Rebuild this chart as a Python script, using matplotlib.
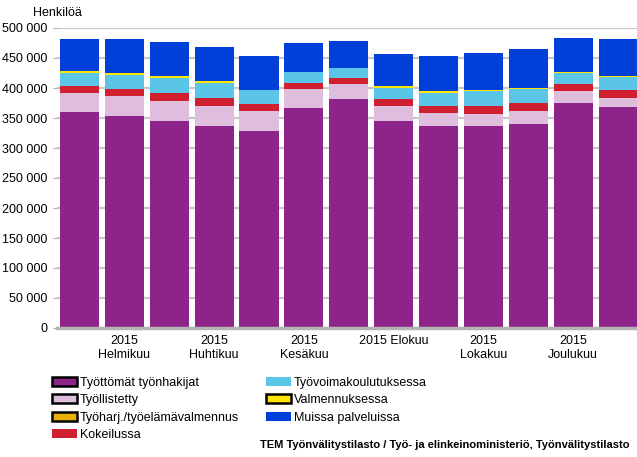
import matplotlib
matplotlib.use("Agg")
import matplotlib.pyplot as plt
from matplotlib.patches import Patch
import numpy as np

plt.rcParams['font.family'] = ['Liberation Sans', 'DejaVu Sans']

months = ["2015 Tammikuu", "2015 Helmikuu", "2015 Maaliskuu", "2015 Huhtikuu",
          "2015 Toukokuu", "2015 Kesäkuu", "2015 Heinäkuu", "2015 Elokuu",
          "2015 Syyskuu", "2015 Lokakuu", "2015 Marraskuu", "2015 Joulukuu",
          "2016 Tammikuu"]

tyottomat = [360500, 353900, 345500, 337200, 328300, 367200, 382200, 345500,
             337200, 337200, 340500, 375500, 368900]
tyollistetty = [31700, 33300, 33400, 33400, 33900, 31700, 25000, 25000,
                21700, 20000, 21700, 20000, 15000]
tyoharj = [0, 0, 0, 0, 0, 0, 0, 0, 0, 0, 0, 0, 0]
kokeilussa = [11700, 11700, 13300, 13300, 11700, 10000, 10000, 11700,
              11700, 13300, 13300, 11700, 13300]
koulutus = [21700, 23300, 25000, 25000, 23300, 18300, 16700, 18300,
            21700, 24500, 22800, 17800, 21100]
valmennus = [3300, 3300, 3300, 3300, 0, 0, 0, 3300, 3300, 2200, 2200, 2200, 2200]
muissa = [53300, 56700, 56700, 56700, 56700, 48300, 45000, 53300,
          58300, 61700, 65000, 56700, 61700]

series_names = ["Työttömät työnhakijat", "Työllistetty", "Työharj./työelämävalmennus",
                "Kokeilussa", "Työvoimakoulutuksessa", "Valmennuksessa", "Muissa palveluissa"]
series_values = [tyottomat, tyollistetty, tyoharj, kokeilussa, koulutus, valmennus, muissa]
colors = ["#8E2489", "#DFBDDC", "#E8B100", "#D01F2E", "#5BC5E8", "#FFE600", "#0040D8"]

xtick_idx = [1, 3, 5, 7, 9, 11]
xtick_labels = ["2015\nHelmikuu", "2015\nHuhtikuu", "2015\nKesäkuu", "2015 Elokuu",
                "2015\nLokakuu", "2015\nJoulukuu"]
yticks = [0, 50000, 100000, 150000, 200000, 250000, 300000, 350000, 400000, 450000, 500000]

fig = plt.figure(figsize=(6.37, 4.57), dpi=100)
ax = fig.add_axes([57/637, 1-328/457, 1-57/637, 300/457])

x = np.arange(len(months))
bottom = np.zeros(len(months))
for name, vals, c in zip(series_names, series_values, colors):
    v = np.array(vals, dtype=float)
    ax.bar(x, v, bottom=bottom, width=0.87, color=c, linewidth=0, zorder=3)
    bottom += v

ax.set_xlim(-0.5, 12.42)
ax.set_ylim(0, 500000)
ax.set_yticks(yticks)
ax.set_yticklabels([f"{v:,}".replace(",", " ") for v in yticks], fontsize=9)
ax.set_xticks(xtick_idx)
ax.set_xticklabels(xtick_labels, fontsize=9, linespacing=1.2)
ax.tick_params(axis='x', length=0, pad=5)
ax.tick_params(axis='y', length=3, color="#b0b0b0", pad=4)
ax.yaxis.grid(True, color="#c8c8c8", linewidth=1.6, zorder=0)
ax.set_axisbelow(True)
for s in ["top", "right", "left"]:
    ax.spines[s].set_visible(False)
ax.spines["bottom"].set_color("#b4b4b4")
ax.spines["bottom"].set_linewidth(2.5)
ax.spines["bottom"].set_zorder(4)

fig.text(33/637, 1-13/457, "Henkilöä", fontsize=9, va="center", ha="left")

handles = []
edge = ["black", "black", "black", "none", "none", "black", "none"]
for name, c, e in zip(series_names, colors, edge):
    handles.append(Patch(facecolor=c, edgecolor=e, linewidth=1.8 if e != "none" else 0, label=name))
fig.legend(handles=handles, loc="upper left", bbox_to_anchor=(52/637, 1-377/457),
           ncol=2, frameon=False, fontsize=9, handlelength=2.0, handleheight=0.75,
           handletextpad=0.25, labelspacing=0.42, columnspacing=2.1, borderaxespad=0,
           borderpad=0)

fig.text(630/637, 1-445/457,
         "TEM Työnvälitystilasto / Työ- ja elinkeinoministeriö, Työnvälitystilasto",
         fontsize=8, fontweight="bold", ha="right", va="center")

fig.savefig("out.png", dpi=100)
